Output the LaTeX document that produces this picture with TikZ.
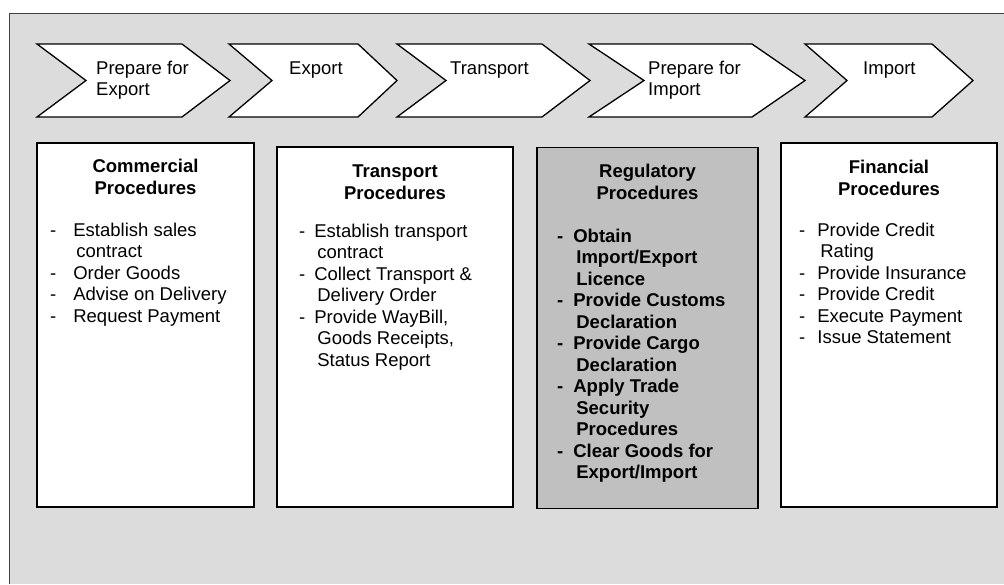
\documentclass[tikz,border=0pt]{standalone}
\usepackage{fontspec}
\setmainfont{Liberation Sans}

\definecolor{bggrey}{HTML}{DCDCDC}
\definecolor{reggrey}{HTML}{C0C0C0}
\newcommand{\procsize}{\fontsize{18.5}{21.5}\selectfont}
\newcommand{\cont}{\hspace{3pt}}

\begin{document}
\begin{tikzpicture}[x=1pt,y=-1pt]  % 1 unit = 1 px of the sheet, y runs downwards

    % Define some common styles
    \tikzset{
        frame/.style={draw=black!75, line width=0.8pt},
        chevron/.style={draw=black, fill=white, line width=1.3pt, line join=miter},
        chevtext/.style={anchor=base west, inner sep=0pt},
        procbox/.style={draw=black, fill=white, line width=1.3pt, inner sep=0pt},
        regbox/.style={procbox, fill=reggrey, line width=1.7pt},
        boxtitle/.style={anchor=base, inner sep=0pt, font=\procsize\bfseries},
        boxitems/.style={anchor=base west, inner sep=0pt},
        every node/.append style={font=\procsize}
    }

    % Sheet with grey background
    \useasboundingbox (0,0) rectangle (1004,584);
    \fill[bggrey] (9,13) rectangle (1004,584);
    \draw[frame] (9,584) -- (9,13) -- (1004,13);

    % Process chevrons (left x / right x / notch depth / tip depth)
    \foreach \xa/\xb/\dn/\dt in {37/182/49/48, 229/358/43/39, 397/542/49/48, 589/752/55/53, 805/932/42/41}
        \draw[chevron] (\xa,44) -- (\xb,44) -- ++(\dt,36.5) -- (\xb,117) -- (\xa,117) -- ++(\dn,-36.5) -- cycle;

    % Chevron labels
    \node[chevtext] (prepexport) at (96,74) {\begin{tabular}[t]{@{}l@{}}Prepare for\\Export\end{tabular}};
    \node[chevtext] (export) at (289,74) {Export};
    \node[chevtext] (transport) at (450,74) {Transport};
    \node[chevtext] (prepimport) at (648,74) {\begin{tabular}[t]{@{}l@{}}Prepare for\\Import\end{tabular}};
    \node[chevtext] (import) at (863,74) {Import};

    % Procedure boxes
    \node[procbox, minimum width=217pt, minimum height=364pt] (commercial) at (145.5,325) {};
    \node[procbox, minimum width=236pt, minimum height=360pt] (transportbox) at (395,327) {};
    \node[regbox, minimum width=221pt, minimum height=361pt] (regulatory) at (647.5,328) {};
    \node[procbox, minimum width=216pt, minimum height=364pt] (financial) at (889,325) {};

    % Box titles
    \node[boxtitle] (commercial-title) at (145.5,172.5) {\begin{tabular}[t]{@{}c@{}}Commercial\\Procedures\end{tabular}};
    \node[boxtitle] (transport-title) at (395,177.5) {\begin{tabular}[t]{@{}c@{}}Transport\\Procedures\end{tabular}};
    \node[boxtitle] (regulatory-title) at (647.5,177.5) {\begin{tabular}[t]{@{}c@{}}Regulatory\\Procedures\end{tabular}};
    \node[boxtitle] (financial-title) at (889,173.5) {\begin{tabular}[t]{@{}c@{}}Financial\\Procedures\end{tabular}};

    % Box contents
    \node[boxitems] (commercial-items) at (50,236) {\begin{tabular}[t]{@{}l@{\hspace{17pt}}l@{}}
        - & Establish sales\\ & \cont contract\\
        - & Order Goods\\
        - & Advise on Delivery\\
        - & Request Payment
    \end{tabular}};
    \node[boxitems] (transport-items) at (299,237) {\begin{tabular}[t]{@{}l@{\hspace{9pt}}l@{}}
        - & Establish transport\\ & \cont contract\\
        - & Collect Transport \&\\ & \cont Delivery Order\\
        - & Provide WayBill,\\ & \cont Goods Receipts,\\ & \cont Status Report
    \end{tabular}};
    \node[boxitems, font=\procsize\bfseries] (regulatory-items) at (557,242) {\begin{tabular}[t]{@{}l@{\hspace{10pt}}l@{}}
        - & Obtain\\ & \cont Import/Export\\ & \cont Licence\\
        - & Provide Customs\\ & \cont Declaration\\
        - & Provide Cargo\\ & \cont Declaration\\
        - & Apply Trade\\ & \cont Security\\ & \cont Procedures\\
        - & Clear Goods for\\ & \cont Export/Import
    \end{tabular}};
    \node[boxitems] (financial-items) at (799,236) {\begin{tabular}[t]{@{}l@{\hspace{12pt}}l@{}}
        - & Provide Credit\\ & \cont Rating\\
        - & Provide Insurance\\
        - & Provide Credit\\
        - & Execute Payment\\
        - & Issue Statement
    \end{tabular}};

\end{tikzpicture}
\end{document}
